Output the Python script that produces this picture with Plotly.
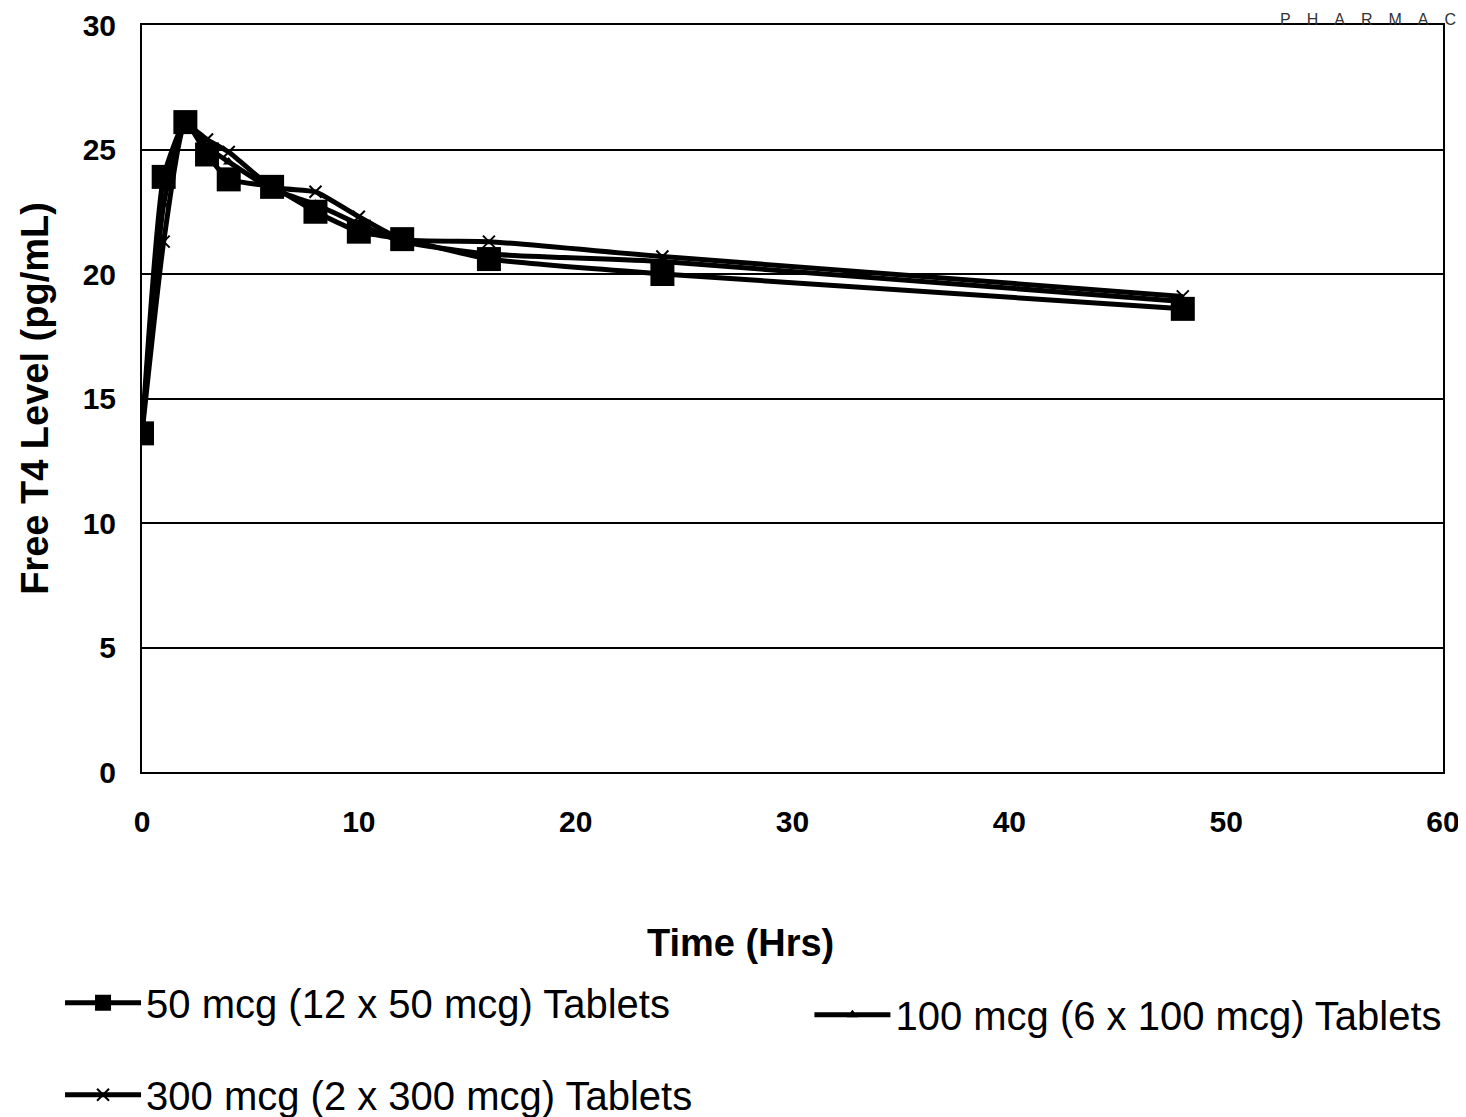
import plotly.graph_objects as go

time_hrs = [0, 1, 2, 3, 4, 6, 8, 10, 12, 16, 24, 48]
t4_50mcg = [13.6, 23.9, 26.1, 24.8, 23.8, 23.5, 22.5, 21.7, 21.4, 20.6, 20.0, 18.6]
t4_100mcg = [13.6, 22.8, 26.1, 25.1, 24.5, 23.4, 22.8, 22.0, 21.3, 20.8, 20.5, 18.9]
t4_300mcg = [13.6, 21.3, 26.0, 25.4, 24.9, 23.5, 23.3, 22.3, 21.4, 21.3, 20.7, 19.1]

names = ["50 mcg (12 x 50 mcg) Tablets",
         "100 mcg (6 x 100 mcg) Tablets",
         "300 mcg (2 x 300 mcg) Tablets"]

x_ticks = [0, 10, 20, 30, 40, 50, 60]
y_ticks = [0, 5, 10, 15, 20, 25, 30]

FONT = "Arial, Liberation Sans, sans-serif"

fig = go.Figure()

fig.add_trace(go.Scatter(
    x=time_hrs, y=t4_300mcg, name=names[2], mode="lines+markers",
    line=dict(color="black", width=5, shape="spline", smoothing=0.5),
    marker=dict(symbol="x-thin", size=12, color="black", line=dict(width=2, color="black")),
    legend="legend3", showlegend=True))

fig.add_trace(go.Scatter(
    x=time_hrs, y=t4_100mcg, name=names[1], mode="lines+markers",
    line=dict(color="black", width=5, shape="spline", smoothing=0.5),
    marker=dict(symbol="triangle-up", size=10, color="black"),
    legend="legend2", showlegend=True))

fig.add_trace(go.Scatter(
    x=time_hrs, y=t4_50mcg, name=names[0], mode="lines+markers",
    line=dict(color="black", width=5, shape="spline", smoothing=0.5),
    marker=dict(symbol="square", size=24, color="black"),
    legend="legend", showlegend=True))

legend_common = dict(font=dict(family=FONT, size=40, color="black"),
                     bgcolor="rgba(0,0,0,0)", borderwidth=0,
                     xanchor="left", yanchor="middle", itemwidth=76,
                     visible=True)

fig.update_layout(
    width=1458, height=1109,
    showlegend=True,
    paper_bgcolor="white", plot_bgcolor="white",
    margin=dict(l=134, r=23, t=17, b=345, autoexpand=False),
    font=dict(family=FONT, color="black"),
    legend=dict(x=-0.063, y=-0.309, **legend_common),
    legend2=dict(x=0.513, y=-0.325, **legend_common),
    legend3=dict(x=-0.063, y=-0.432, **legend_common),
    xaxis=dict(
        range=[0, 60], tickvals=x_ticks, ticktext=[str(v) for v in x_ticks],
        showgrid=False, zeroline=False,
        showline=True, linecolor="black", linewidth=2, mirror=True,
        ticks="", ticklabelstandoff=22,
        tickfont=dict(family=FONT, size=30, color="black", weight="bold"),
        automargin=False),
    yaxis=dict(
        range=[0, 30], tickvals=y_ticks, ticktext=[str(v) for v in y_ticks],
        showgrid=True, gridcolor="black", gridwidth=1.5, zeroline=False,
        showline=True, linecolor="black", linewidth=2, mirror=True,
        ticks="", ticklabelstandoff=18,
        tickfont=dict(family=FONT, size=30, color="black", weight="bold"),
        title=dict(text="<b>Free T4 Level (pg/mL)</b>", standoff=22,
                   font=dict(family=FONT, size=38, color="black")),
        automargin=False),
)

# x-axis title (placed left of centre, as in the original)
fig.add_annotation(
    text="<b>Time (Hrs)</b>", xref="paper", yref="paper",
    x=0.46, y=-0.229, xanchor="center", yanchor="middle", showarrow=False,
    font=dict(family=FONT, size=38, color="black"))

fig.add_annotation(
    text="P\u2003H\u2003A\u2003R\u2003M\u2003A\u2003C", xref="paper", yref="paper",
    x=0.873, y=1.0067, xanchor="left", yanchor="middle", showarrow=False,
    font=dict(family=FONT, size=16, color="#333333"))

fig.write_html("out.html")
